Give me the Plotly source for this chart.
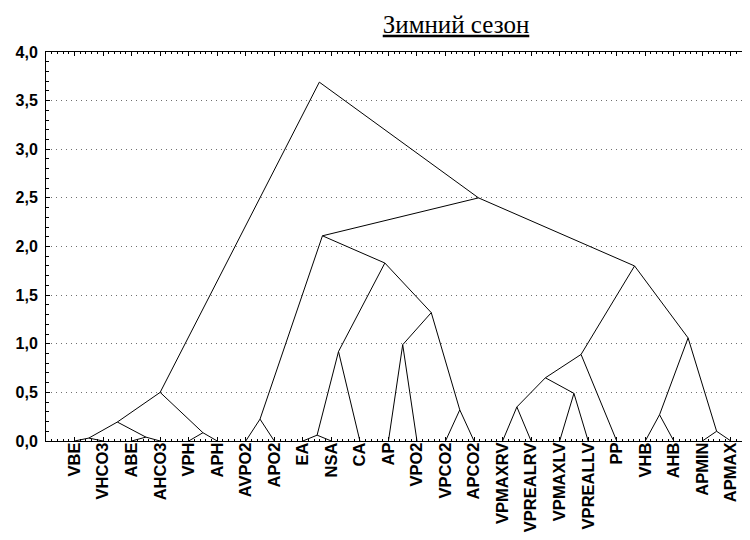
import plotly.graph_objects as go

# Leaves in dendrogram order
leaves = ["VBE", "VHCO3", "ABE", "AHCO3", "VPH", "APH", "AVPO2", "APO2",
          "EA", "NSA", "CA", "AP", "VPO2", "VPCO2", "APCO2", "VPMAXRV",
          "VPREALRV", "VPMAXLV", "VPREALLV", "PP", "VHB", "AHB", "APMIN", "APMAX"]

# Linkage: cluster "cK" is formed by merge K of merge_left and merge_right at merge_height
merge_left = ["VBE", "ABE", "c0", "VPH", "c2", "AVPO2", "EA", "c6", "AP", "VPCO2",
              "c8", "c7", "c5", "VPMAXRV", "VPMAXLV", "c13", "c15", "VHB", "APMIN",
              "c17", "c16", "c12", "c4"]
merge_right = ["VHCO3", "AHCO3", "c1", "APH", "c3", "APO2", "NSA", "CA", "VPO2", "APCO2",
               "c9", "c10", "c11", "VPREALRV", "VPREALLV", "c14", "PP", "AHB", "APMAX",
               "c18", "c19", "c20", "c21"]
merge_height = [0.03, 0.04, 0.195, 0.085, 0.50, 0.225, 0.06, 0.92, 0.99, 0.32,
                1.32, 1.83, 2.11, 0.35, 0.49, 0.65, 0.89, 0.27, 0.10,
                1.06, 1.80, 2.50, 3.69]

y_ticks = [0.0, 0.5, 1.0, 1.5, 2.0, 2.5, 3.0, 3.5, 4.0]
title_text = "Зимний сезон"

# positions
pos = {name: (i + 1, 0.0) for i, name in enumerate(leaves)}
xs, ys = [], []
for k, (a, b, h) in enumerate(zip(merge_left, merge_right, merge_height)):
    xa, ya = pos[a]
    xb, yb = pos[b]
    xp = (xa + xb) / 2.0
    pos["c%d" % k] = (xp, h)
    xs += [xa, xp, xb, None]
    ys += [ya, h, yb, None]

fig = go.Figure()
fig.add_trace(go.Scatter(x=xs, y=ys, mode="lines",
                         line=dict(color="black", width=1),
                         hoverinfo="skip", showlegend=False))

fig.update_layout(
    width=750, height=540,
    margin=dict(l=38, r=8, t=44, b=107, autoexpand=False),
    paper_bgcolor="white", plot_bgcolor="white",
    separators=", ",
    title=dict(text="<u>" + title_text + "</u>",
               font=dict(family="Liberation Serif", size=25, color="black"),
               x=448 / 750, xref="container", xanchor="center",
               y=1 - 16 / 540, yref="container", yanchor="middle"),
)

fig.update_xaxes(
    range=[0, 24.67], tickmode="array",
    tickvals=list(range(1, len(leaves) + 1)), ticktext=leaves,
    tickangle=-90, automargin=False,
    tickfont=dict(family="Liberation Sans", size=16.5, color="black", weight="bold"),
    showgrid=False, zeroline=False,
    showline=True, linecolor="black", linewidth=1, mirror="ticks",
    ticks="inside", ticklen=4, tickcolor="black",
    minor=dict(ticks="inside", ticklen=2, dtick=0.2, tick0=0, tickcolor="black", showgrid=False),
    ticklabelstandoff=-6,
)
fig.update_yaxes(
    range=[0, 4], tickmode="array", tickvals=y_ticks,
    tickformat=".1f", automargin=False,
    tickfont=dict(family="Liberation Sans", size=16, color="black", weight="bold"),
    showgrid=True, gridcolor="#707070", griddash="1px,4px", gridwidth=1,
    zeroline=False,
    showline=True, linecolor="black", linewidth=1, mirror=False,
    ticks="inside", ticklen=4, tickcolor="black",
    minor=dict(ticks="inside", ticklen=3, dtick=0.1, tick0=0, tickcolor="black", showgrid=False),
    ticklabelstandoff=4,
)

fig.write_html("out.html")
